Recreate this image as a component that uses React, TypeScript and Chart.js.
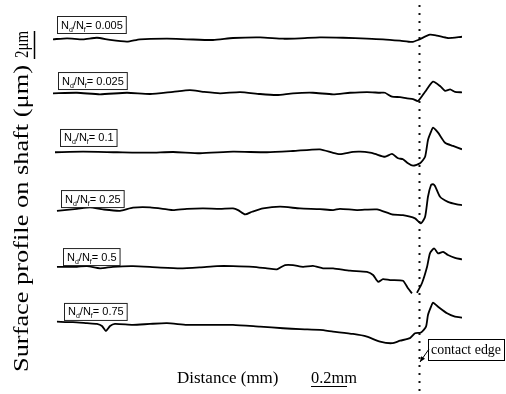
import { useEffect, useRef } from 'react';
import { Chart, registerables } from 'chart.js';

Chart.register(...registerables);

// N_d / N_f ratios (one profile each)
const RATIOS = ['0.005', '0.025', '0.1', '0.25', '0.5', '0.75'];
// vertical stacking offset of each profile (μm)
const OFFSETS_UM = [0, -3.86, -8.07, -12.29, -16.29, -20.21];
const CONTACT_EDGE_MM = 2.033;
const SCALE_BAR_UM = 2;
const SCALE_BAR_MM = 0.2;

// distance (mm) / surface height (μm)
const dist1 = [0, 0.078, 0.167, 0.244, 0.317, 0.411, 0.483, 0.633, 0.744, 0.889, 1.0, 1.15, 1.278, 1.372, 1.483, 1.611, 1.744, 1.833, 1.928, 1.994, 2.028, 2.094, 2.133, 2.194, 2.272];
const prof1 = [-0.02, 0.05, -0.02, 0.09, -0.07, -0.19, -0.02, 0.02, -0.02, -0.07, 0.07, 0.12, 0.02, 0.05, 0.12, 0.09, 0.02, -0.02, -0.12, -0.21, -0.07, 0.31, 0.24, 0.07, 0.16];

const dist2 = [0, 0.133, 0.261, 0.411, 0.539, 0.667, 0.761, 0.833, 0.928, 1.039, 1.15, 1.244, 1.333, 1.444, 1.556, 1.65, 1.744, 1.817, 1.844, 1.883, 1.928, 1.967, 2.0, 2.028, 2.067, 2.111, 2.15, 2.178, 2.206, 2.233, 2.272];
const prof2 = [-0.02, 0.02, -0.09, 0.02, -0.07, 0.09, 0.21, 0.09, -0.02, 0.07, -0.07, -0.14, -0.02, 0.02, -0.09, 0.02, 0.07, 0.02, 0.02, -0.26, -0.29, -0.38, -0.43, -0.57, 0.09, 0.81, 0.5, 0.16, 0.26, 0.09, 0.05];

const dist3 = [0.011, 0.167, 0.356, 0.539, 0.667, 0.817, 1.0, 1.189, 1.333, 1.483, 1.556, 1.594, 1.667, 1.706, 1.761, 1.789, 1.844, 1.883, 1.917, 1.944, 1.972, 2.0, 2.039, 2.067, 2.083, 2.1, 2.111, 2.139, 2.178, 2.222, 2.272];
const prof3 = [-0.02, 0.02, -0.02, -0.05, 0, -0.09, 0.02, -0.02, 0.07, 0.19, -0.07, -0.16, 0, 0.02, -0.05, -0.14, -0.34, -0.14, -0.45, -0.52, -0.81, -0.98, -0.81, -0.34, 0.86, 1.45, 1.74, 1.38, 0.66, 0.43, 0.19];

const dist4 = [0.022, 0.133, 0.206, 0.278, 0.372, 0.444, 0.539, 0.633, 0.667, 0.744, 0.833, 0.928, 1.0, 1.028, 1.067, 1.106, 1.167, 1.261, 1.372, 1.483, 1.556, 1.594, 1.689, 1.8, 1.883, 1.944, 2.011, 2.044, 2.067, 2.083, 2.1, 2.111, 2.122, 2.15, 2.194, 2.244, 2.272];
const prof4 = [0.02, 0.16, 0.26, 0.12, 0.02, 0.24, 0.26, 0.12, 0.07, 0.16, 0.19, 0.16, 0.19, 0.07, -0.24, -0.05, 0.19, 0.31, 0.19, 0.14, 0.07, 0.16, 0.07, 0.12, -0.24, -0.29, -0.52, -0.88, -0.41, 1.02, 1.86, 1.93, 1.79, 1.02, 0.66, 0.48, 0.43];

const dist5 = [0.022, 0.133, 0.189, 0.261, 0.333, 0.444, 0.578, 0.706, 0.817, 0.911, 1.0, 1.111, 1.189, 1.244, 1.289, 1.333, 1.389, 1.444, 1.5, 1.556, 1.65, 1.744, 1.778, 1.806, 1.833, 1.872, 1.944, 1.972, 1.994, 2.008, 2.022, 2.05, 2.078, 2.094, 2.117, 2.139, 2.167, 2.194, 2.233, 2.272];
const prof5 = [0.02, 0.02, 0.07, -0.09, 0.02, 0.07, -0.02, -0.09, -0.02, 0.07, 0.07, 0.02, -0.09, -0.16, 0.14, 0.14, 0.02, 0.09, -0.09, -0.09, -0.26, -0.34, -0.57, -1.05, -0.86, -0.93, -0.98, -1.52, -1.88, null, -1.84, -1.14, 0.02, 0.98, 1.34, 0.98, 1.09, 0.86, 0.66, 0.55];

const dist6 = [0.022, 0.111, 0.189, 0.244, 0.272, 0.294, 0.317, 0.344, 0.444, 0.539, 0.633, 0.744, 0.856, 1.0, 1.15, 1.278, 1.372, 1.483, 1.556, 1.667, 1.744, 1.817, 1.883, 1.928, 1.983, 2.011, 2.044, 2.072, 2.083, 2.1, 2.111, 2.139, 2.189, 2.233, 2.272];
const prof6 = [0.02, -0.02, -0.09, -0.14, -0.29, -0.65, -0.29, -0.14, -0.21, -0.14, -0.09, -0.21, -0.21, -0.21, -0.34, -0.45, -0.52, -0.57, -0.69, -0.86, -1.05, -1.41, -1.52, -1.34, -1.16, -0.81, -0.76, -0.34, 0.5, 1.09, 1.38, 1.09, 0.62, 0.38, 0.31];

const DISTS = [dist1, dist2, dist3, dist4, dist5, dist6];
const PROFS = [prof1, prof2, prof3, prof4, prof5, prof6];

const SERIF = '"Liberation Serif", "Times New Roman", serif';
const SANS = '"Liberation Sans", Arial, sans-serif';

function drawRatioLabel(ctx: CanvasRenderingContext2D, x: number, bottom: number, value: string) {
  const big = `11px ${SANS}`;
  const small = `7px ${SANS}`;
  const parts: [string, boolean][] = [['N', false], ['d', true], ['/N', false], ['f', true], ['= ' + value, false]];
  let w = 0;
  for (const [t, sub] of parts) {
    ctx.font = sub ? small : big;
    w += ctx.measureText(t).width;
  }
  const h = 17;
  const top = bottom - h;
  ctx.save();
  ctx.fillStyle = '#fff';
  ctx.fillRect(x, top, w + 7, h);
  ctx.strokeStyle = '#222';
  ctx.lineWidth = 1;
  ctx.strokeRect(x + 0.5, top + 0.5, w + 7, h);
  ctx.fillStyle = '#000';
  ctx.textBaseline = 'alphabetic';
  ctx.textAlign = 'left';
  let cx = x + 4;
  for (const [t, sub] of parts) {
    ctx.font = sub ? small : big;
    ctx.fillText(t, cx, top + 12.5 + (sub ? 3 : 0));
    cx += ctx.measureText(t).width;
  }
  ctx.restore();
}

const overlay = {
  id: 'overlay',
  beforeDatasetsDraw(chart: any) {
    const ctx = chart.ctx as CanvasRenderingContext2D;
    const xs = chart.scales.x;
    const ex = Math.round(xs.getPixelForValue(CONTACT_EDGE_MM)) + 0.5;
    ctx.save();
    ctx.strokeStyle = '#111';
    ctx.lineWidth = 2;
    ctx.setLineDash([2, 6]);
    ctx.beginPath();
    ctx.moveTo(ex, 5);
    ctx.lineTo(ex, chart.height);
    ctx.stroke();
    ctx.restore();
  },
  afterDatasetsDraw(chart: any) {
    const ctx = chart.ctx as CanvasRenderingContext2D;
    const xs = chart.scales.x;
    const ys = chart.scales.y;
    const left = chart.chartArea.left;

    // ratio labels
    const lift = [6, 4, 6, 4, 2, 2];
    RATIOS.forEach((r, i) => {
      const base = ys.getPixelForValue(OFFSETS_UM[i]);
      drawRatioLabel(ctx, left + 4 + Math.round(i * 1.4), base - lift[i], r);
    });

    ctx.save();
    ctx.fillStyle = '#000';
    ctx.strokeStyle = '#000';
    ctx.textAlign = 'left';
    ctx.textBaseline = 'alphabetic';

    // y axis title (rotated)
    const yTitle = 'Surface profile on shaft (μm)';
    ctx.save();
    ctx.translate(28, 372);
    ctx.rotate(-Math.PI / 2);
    ctx.font = `21px ${SERIF}`;
    const tw = ctx.measureText(yTitle).width;
    ctx.scale(307 / tw, 1);
    ctx.fillText(yTitle, 0, 0);
    ctx.restore();

    // 2 μm scale bar
    const barLen = ys.getPixelForValue(0) - ys.getPixelForValue(SCALE_BAR_UM);
    ctx.save();
    ctx.translate(28, 58);
    ctx.rotate(-Math.PI / 2);
    ctx.font = `19px ${SERIF}`;
    const sw = ctx.measureText('2μm').width;
    ctx.scale(27 / sw, 1);
    ctx.fillText('2μm', 0, 0);
    ctx.restore();
    ctx.lineWidth = 1.5;
    ctx.beginPath();
    ctx.moveTo(34.5, 59);
    ctx.lineTo(34.5, 59 - barLen);
    ctx.stroke();

    // x title and 0.2 mm scale bar
    ctx.font = `17px ${SERIF}`;
    ctx.fillText('Distance (mm)', 177, 383);
    ctx.save();
    ctx.translate(311, 383);
    const mw = ctx.measureText('0.2mm').width;
    ctx.scale(46 / mw, 1);
    ctx.fillText('0.2mm', 0, 0);
    ctx.restore();
    const mmLen = xs.getPixelForValue(SCALE_BAR_MM) - xs.getPixelForValue(0);
    ctx.lineWidth = 1.2;
    ctx.beginPath();
    ctx.moveTo(311, 386.5);
    ctx.lineTo(311 + mmLen, 386.5);
    ctx.stroke();

    // contact edge annotation
    const ex = xs.getPixelForValue(CONTACT_EDGE_MM);
    const bx = Math.round(ex + 9);
    const by = Math.round(ys.getPixelForValue(OFFSETS_UM[5]) + 17);
    ctx.font = `14px ${SERIF}`;
    const cw = ctx.measureText('contact edge').width;
    const bw = Math.min(cw + 6, 506 - bx - 2);
    ctx.fillStyle = '#fff';
    ctx.fillRect(bx, by, bw, 21);
    ctx.lineWidth = 1;
    ctx.strokeRect(bx + 0.5, by + 0.5, bw, 21);
    ctx.fillStyle = '#000';
    ctx.save();
    ctx.translate(bx + 3, by + 15);
    ctx.scale(Math.min(1, (bw - 6) / cw), 1);
    ctx.fillText('contact edge', 0, 0);
    ctx.restore();
    // arrow
    const ax0 = bx + 1, ay0 = by + 10;
    const ax1 = ex + 1, ay1 = by + 23;
    ctx.lineWidth = 1;
    ctx.beginPath();
    ctx.moveTo(ax0, ay0);
    ctx.lineTo(ax1, ay1);
    ctx.stroke();
    const ang = Math.atan2(ay1 - ay0, ax1 - ax0);
    ctx.beginPath();
    ctx.moveTo(ax1, ay1);
    ctx.lineTo(ax1 - 6 * Math.cos(ang - 0.4), ay1 - 6 * Math.sin(ang - 0.4));
    ctx.lineTo(ax1 - 6 * Math.cos(ang + 0.4), ay1 - 6 * Math.sin(ang + 0.4));
    ctx.closePath();
    ctx.fill();
    ctx.restore();
  },
};

export default function App() {
  const ref = useRef<HTMLCanvasElement | null>(null);
  useEffect(() => {
    document.body.style.margin = '0';
    if (!ref.current) return;
    const datasets = RATIOS.map((r, i) => ({
      label: 'Nd/Nf = ' + r,
      data: DISTS[i].map((d, k) => ({ x: d, y: PROFS[i][k] === null ? null : (PROFS[i][k] as number) + OFFSETS_UM[i] })),
      borderColor: '#000',
      borderWidth: 1.8,
      pointRadius: 0,
      tension: 0.2,
      fill: false,
      spanGaps: false,
    }));
    const chart = new Chart(ref.current, {
      type: 'line',
      data: { datasets: datasets as any },
      options: {
        animation: false,
        responsive: true,
        maintainAspectRatio: false,
        layout: { padding: { left: 53, right: 44, top: 11, bottom: 5 } },
        plugins: { legend: { display: false }, tooltip: { enabled: false } },
        scales: {
          x: { type: 'linear', min: 0, max: 2.272, display: false },
          y: { type: 'linear', min: -25, max: 2, display: false },
        },
      },
      plugins: [overlay],
    });
    return () => chart.destroy();
  }, []);
  return (
    <div style={{ width: 506, height: 394, position: 'relative', background: '#fff' }}>
      <canvas ref={ref} />
    </div>
  );
}
